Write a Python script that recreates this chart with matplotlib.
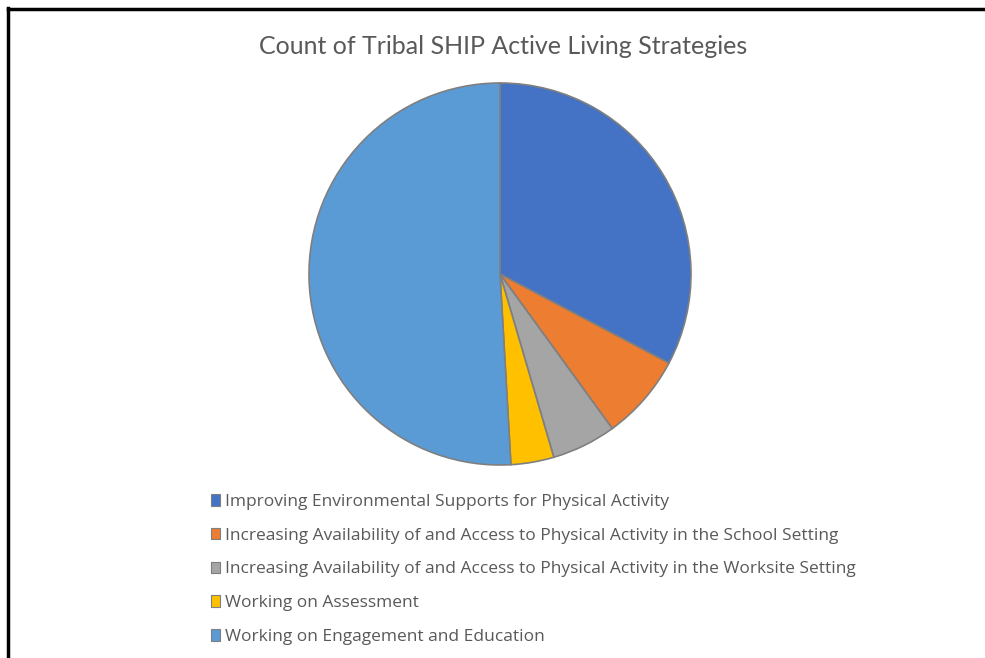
import matplotlib
matplotlib.use("Agg")
import matplotlib.pyplot as plt
from matplotlib.lines import Line2D

title = "Count of Tribal SHIP Active Living Strategies"
categories = [
    "Improving Environmental Supports for Physical Activity",
    "Increasing Availability of and Access to Physical Activity in the School Setting",
    "Increasing Availability of and Access to Physical Activity in the Worksite Setting",
    "Working on Assessment",
    "Working on Engagement and Education",
]
counts = [18, 4, 3, 2, 28]
colors = ["#4472C4", "#ED7D31", "#A5A5A5", "#FFC000", "#5B9BD5"]

plt.rcParams['font.family'] = ['Lato', 'DejaVu Sans']

W, H = 985, 658
fig = plt.figure(figsize=(W/100, H/100), dpi=100)

# border lines (top and left)
fig.add_artist(Line2D([8/W, 8/W], [0, 1 - 8/H], color='black', lw=2.5, transform=fig.transFigure))
fig.add_artist(Line2D([8/W, 1], [1 - 9/H, 1 - 9/H], color='black', lw=2.5, transform=fig.transFigure))

cx, cy, r = 500, 274, 191
ax = fig.add_axes([(cx - r)/W, (H - cy - r)/H, 2*r/W, 2*r/H])
wedges, _ = ax.pie(counts, colors=colors, startangle=90, counterclock=False,
                   wedgeprops=dict(edgecolor='#7F7F7F', linewidth=1.2))
ax.set_aspect('equal')
ax.set_xlim(-1, 1)
ax.set_ylim(-1, 1)

fig.text(cx/W + 3/W, 1 - 46/H, title, ha='center', va='center', fontsize=18, color='#595959')

handles = [plt.Rectangle((0, 0), 1, 1, facecolor=c, edgecolor='#7F7F7F', lw=0.8) for c in colors]
leg = fig.legend(handles, categories, loc='upper left', bbox_to_anchor=(211/W, 1 - 494/H),
                 frameon=False, prop={'family': ['Open Sans', 'DejaVu Sans'], 'size': 12.5},
                 handlelength=0.5, handleheight=0.65,
                 handletextpad=0.3, labelspacing=1.02, borderaxespad=0, borderpad=0)
for t in leg.get_texts():
    t.set_color('#595959')

fig.savefig("out.png", dpi=100, facecolor='white')
